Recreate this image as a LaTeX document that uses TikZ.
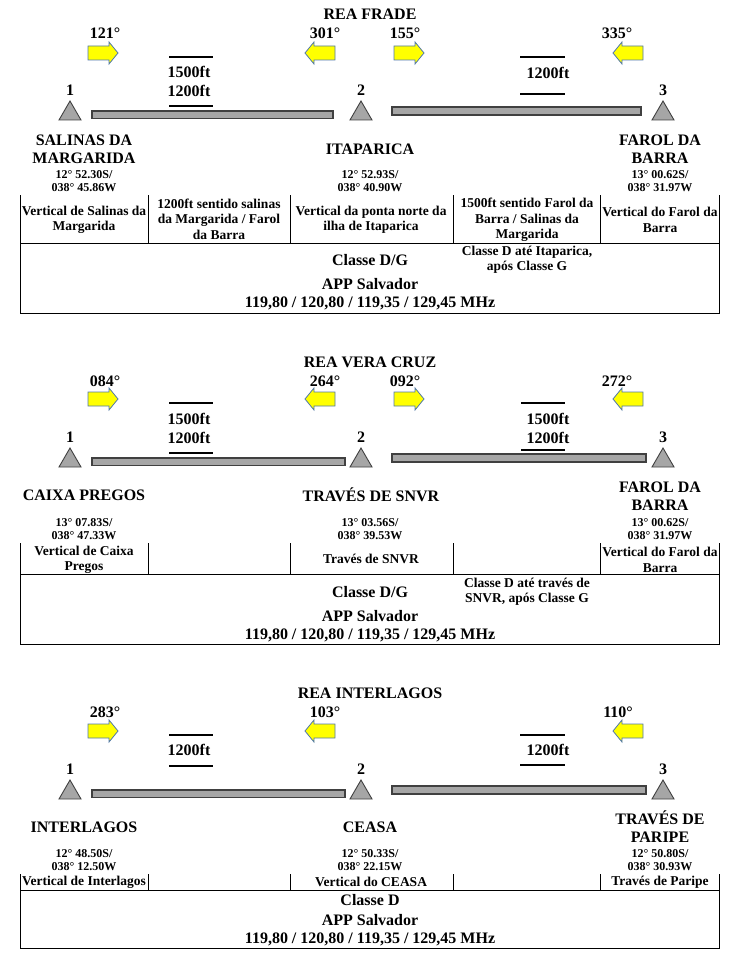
\documentclass[tikz,border=0pt]{standalone}
\usepackage{fontspec}
\setmainfont{Liberation Serif}
\usepackage{tikz}
\usetikzlibrary{positioning}
\definecolor{ArrowYellow}{RGB}{255,255,0}
\definecolor{ArrowEdge}{RGB}{80,120,170}
\definecolor{MarkGray}{RGB}{166,166,166}
\definecolor{EdgeGray}{RGB}{64,64,64}

\begin{document}
\begin{tikzpicture}[x=1pt,y=-1pt,
  big/.style={font=\fontsize{16}{18}\selectfont\bfseries,inner sep=0pt,align=center},
  coord/.style={font=\fontsize{12}{13}\selectfont\bfseries,inner sep=0pt,align=center},
  cell/.style={font=\fontsize{13.5}{15.5}\selectfont\bfseries,inner sep=0pt,align=center},
  yarrow/.style={fill=ArrowYellow,draw=ArrowEdge,line width=0.8pt},
  wpt/.style={fill=MarkGray,draw=EdgeGray,line width=0.9pt},
  rwy/.style={fill=MarkGray,draw=EdgeGray,line width=1.1pt},
  altline/.style={line width=1.6pt},
  grid/.style={line width=0.9pt}]
\useasboundingbox(0,0)rectangle(746,971);
% Waypoints and legs
\foreach \dy/\lend/\rend in {0/333/641,347/345/646,679/345/646}{
  \draw[rwy](92,111+\dy)rectangle(\lend,118.5+\dy);
  \draw[rwy](392,107+\dy)rectangle(\rend,115+\dy);
  \foreach \x/\n in {70/1,361/2,663/3}{
    \draw[wpt](\x-11,120+\dy)--(\x,101+\dy)--(\x+11,120+\dy)--cycle;
    \node[big](wp\n-\dy)at(\x,90+\dy){\n};
  }
}
% Heading arrows
\foreach \x/\y in {88/53,394/53,88/399,394/399,88/731}
  \draw[yarrow](\x,\y-7)--++(21,0)--++(0,-4)--++(9,11)--++(-9,11)--++(0,-4)--++(-21,0)--cycle;
\foreach \x/\y in {305/53,613/53,305/399,613/399,305/731,613/731}
  \draw[yarrow](\x,\y)--++(9,-11)--++(0,4)--++(21,0)--++(0,14)--++(-21,0)--++(0,4)--cycle;
% Tables
\foreach \ya/\yb/\yc in {195/243/313,543/574/644,874/890/948}{
  \draw[grid](20,\ya)--(20,\yc)--(719,\yc)--(719,\ya);
  \draw[grid](20,\yb)--(719,\yb);
  \foreach \x in {148,290,453,600}\draw[grid](\x,\ya)--(\x,\yb);
}

% REA FRADE
\node[big](frade)at(370,14){REA FRADE};
\node[big](h1a)at(105,33){121°};
\node[big](h1b)at(325,33){301°};
\node[big](h1c)at(405,33){155°};
\node[big](h1d)at(617,33){335°};
\draw[altline](169,57)--(213,57);
\draw[altline](169,106)--(213,106);
\node[big](alt1a)at(189,72){1500ft};
\node[big](alt1b)at(189,91){1200ft};
\draw[altline](520,57)--(565,57);
\draw[altline](520,94)--(565,94);
\node[big](alt1c)at(548,73){1200ft};
\node[big](salinas)at(84,149){SALINAS DA\\MARGARIDA};
\node[big](itaparica)at(370,149){ITAPARICA};
\node[big](farol1)at(660,149){FAROL DA\\BARRA};
\node[coord](salinasc)at(84,181){12° 52.30S/\\038° 45.86W};
\node[coord](itaparicac)at(370,181){12° 52.93S/\\038° 40.90W};
\node[coord](farol1c)at(660,181){13° 00.62S/\\038° 31.97W};
\node[cell](c11)at(84,220){Vertical de Salinas da\\Margarida};
\node[cell](c12)at(219,219){1200ft sentido salinas\\da Margarida / Farol\\da Barra};
\node[cell](c13)at(371,220){Vertical da ponta norte da\\ilha de Itaparica};
\node[cell](c14)at(527,220){1500ft sentido Farol da\\Barra / Salinas da\\Margarida};
\node[cell](c15)at(660,220){Vertical do Farol da\\Barra};
\node[big](cls1)at(370,260){Classe D/G};
\node[cell](cls1b)at(527,259.5){Classe D até Itaparica,\\após Classe G};
\node[big](app1)at(370,284){APP Salvador};
\node[big](frq1)at(370,303){119,80 / 120,80 / 119,35 / 129,45 MHz};

% REA VERA CRUZ
\node[big](veracruz)at(370,362){REA VERA CRUZ};
\node[big](h2a)at(105,381){084°};
\node[big](h2b)at(325,381){264°};
\node[big](h2c)at(405,381){092°};
\node[big](h2d)at(617,381){272°};
\draw[altline](169,403)--(213,403);
\draw[altline](169,453)--(213,453);
\node[big](alt2a)at(189,419){1500ft};
\node[big](alt2b)at(189,438){1200ft};
\draw[altline](521,403)--(565,403);
\draw[altline](521,450)--(565,450);
\node[big](alt2c)at(548,419){1500ft};
\node[big](alt2d)at(548,438){1200ft};
\node[big](caixa)at(84,495){CAIXA PREGOS};
\node[big](snvr)at(371,495){TRAVÉS DE SNVR};
\node[big](farol2)at(660,496){FAROL DA\\BARRA};
\node[coord](caixac)at(84,529){13° 07.83S/\\038° 47.33W};
\node[coord](snvrc)at(370,529){13° 03.56S/\\038° 39.53W};
\node[coord](farol2c)at(660,529){13° 00.62S/\\038° 31.97W};
\node[cell](c21)at(84,560){Vertical de Caixa\\Pregos};
\node[cell](c23)at(371,559){Través de SNVR};
\node[cell](c25)at(660,560){Vertical do Farol da\\Barra};
\node[big](cls2)at(370,592){Classe D/G};
\node[cell](cls2b)at(527,591.5){Classe D até través de\\SNVR, após Classe G};
\node[big](app2)at(370,616){APP Salvador};
\node[big](frq2)at(370,635){119,80 / 120,80 / 119,35 / 129,45 MHz};

% REA INTERLAGOS
\node[big](interlagos)at(370,693){REA INTERLAGOS};
\node[big](h3a)at(105,712){283°};
\node[big](h3b)at(325,712){103°};
\node[big](h3d)at(618,712){110°};
\draw[altline](169,735)--(213,735);
\draw[altline](169,766)--(213,766);
\node[big](alt3a)at(189,750){1200ft};
\draw[altline](520,735)--(565,735);
\draw[altline](520,765)--(565,765);
\node[big](alt3b)at(548,750){1200ft};
\node[big](inter)at(84,827){INTERLAGOS};
\node[big](ceasa)at(370,827){CEASA};
\node[big](paripe)at(660,827){TRAVÉS DE\\PARIPE};
\node[coord](interc)at(84,860){12° 48.50S/\\038° 12.50W};
\node[coord](ceasac)at(370,860){12° 50.33S/\\038° 22.15W};
\node[coord](paripec)at(660,860){12° 50.80S/\\038° 30.93W};
\node[cell](c31)at(84,882){Vertical de Interlagos};
\node[cell](c33)at(371,882){Vertical do CEASA};
\node[cell](c35)at(660,882){Través de Paripe};
\node[big](cls3)at(370,900){Classe D};
\node[big](app3)at(370,920){APP Salvador};
\node[big](frq3)at(370,939){119,80 / 120,80 / 119,35 / 129,45 MHz};
\end{tikzpicture}
\end{document}
